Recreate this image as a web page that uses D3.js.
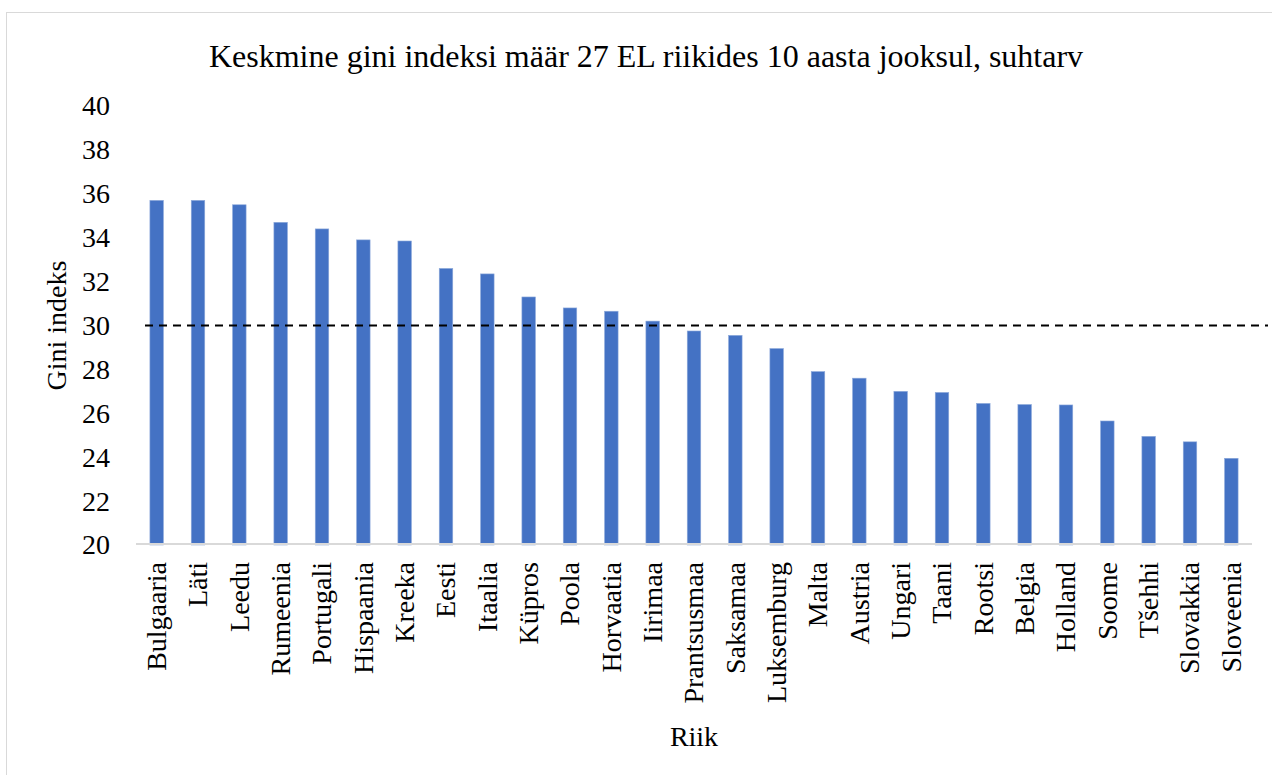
<!DOCTYPE html>
<html>
<head>
<meta charset="utf-8">
<script src="https://cdn.jsdelivr.net/npm/d3@7"></script>
<style>
  html, body { margin: 0; padding: 0; background: #fff; }
  svg { display: block; }
  svg text { font-family: "Liberation Serif", "Times New Roman", serif !important; fill: #000; }
</style>
</head>
<body>
<svg id="chart" width="1272" height="775"></svg>
<script>
const countries = ["Bulgaaria","Läti","Leedu","Rumeenia","Portugali","Hispaania","Kreeka","Eesti","Itaalia","Küpros","Poola","Horvaatia","Iirimaa","Prantsusmaa","Saksamaa","Luksemburg","Malta","Austria","Ungari","Taani","Rootsi","Belgia","Holland","Soome","Tšehhi","Slovakkia","Sloveenia"];
const giniValues = [35.7,35.7,35.5,34.7,34.4,33.9,33.85,32.6,32.35,31.3,30.8,30.65,30.2,29.75,29.55,28.95,27.9,27.6,27.0,26.95,26.45,26.4,26.38,25.65,24.95,24.7,23.95];
const yTicks = [20,22,24,26,28,30,32,34,36,38,40];
const averageLine = 30;
const titleText = "Keskmine gini indeksi määr 27 EL riikides 10 aasta jooksul, suhtarv";
const yTitle = "Gini indeks";
const xTitle = "Riik";

const svg = d3.select("#chart");
const SERIF = '"Liberation Serif", "Times New Roman", serif';

// outer chart border
svg.append("rect")
  .attr("x", 6.5).attr("y", 12.5)
  .attr("width", 1300).attr("height", 800)
  .attr("fill", "#fff").attr("stroke", "#d9d9d9").attr("stroke-width", 1);

const plotLeft = 136, plotRight = 1252;
const x = d3.scaleBand().domain(countries).range([plotLeft, plotRight]).paddingInner(0.673).paddingOuter(0.3365);
const y = d3.scaleLinear().domain([20, 40]).range([545, 106]);

// bars
svg.append("g").selectAll("rect")
  .data(countries.map((c, i) => ({c, v: giniValues[i]})))
  .join("rect")
  .attr("x", d => x(d.c))
  .attr("width", x.bandwidth())
  .attr("y", d => y(d.v))
  .attr("height", d => y(20) - y(d.v))
  .attr("fill", "#4472C4")
  .attr("stroke", "#8eaadb")
  .attr("stroke-width", 0.6);

// x axis line
svg.append("line")
  .attr("x1", plotLeft).attr("x2", plotRight)
  .attr("y1", 544).attr("y2", 544)
  .attr("stroke", "#d9d9d9").attr("stroke-width", 2);

// y axis (labels only)
const yAxis = d3.axisLeft(y).tickValues(yTicks).tickSize(0).tickPadding(26).tickFormat(d3.format("d"));
const gy = svg.append("g").attr("transform", `translate(${plotLeft},0)`).call(yAxis);
gy.select(".domain").remove();
gy.attr("font-family", null).attr("font-size", null);
gy.selectAll("text").style("font-size", "28px").style("font-family", SERIF).attr("fill", "#000");

// x axis labels
const xAxis = d3.axisBottom(x).tickSize(0).tickPadding(0);
const gx = svg.append("g").attr("transform", `translate(0,562)`).call(xAxis);
gx.select(".domain").remove();
gx.attr("font-family", null).attr("font-size", null);
gx.selectAll("text")
  .style("font-size", "28px").style("font-family", SERIF).attr("fill", "#000")
  .attr("text-anchor", "end")
  .attr("transform", "rotate(-90)")
  .attr("x", 0).attr("y", 0).attr("dy", "0.33em");

// dashed average line
svg.append("line")
  .attr("x1", 145).attr("x2", 1268)
  .attr("y1", y(averageLine)).attr("y2", y(averageLine))
  .attr("stroke", "#000").attr("stroke-width", 2)
  .attr("stroke-dasharray", "8,6");

// title
svg.append("text")
  .attr("x", 646).attr("y", 67)
  .attr("text-anchor", "middle")
  .style("font-size", "32px")
  .text(titleText);

// y title
svg.append("text")
  .attr("transform", `translate(66,${y(30)}) rotate(-90)`)
  .attr("text-anchor", "middle")
  .style("font-size", "28px")
  .text(yTitle);

// x title
svg.append("text")
  .attr("x", 694).attr("y", 746)
  .attr("text-anchor", "middle")
  .style("font-size", "28px")
  .text(xTitle);
</script>
</body>
</html>
